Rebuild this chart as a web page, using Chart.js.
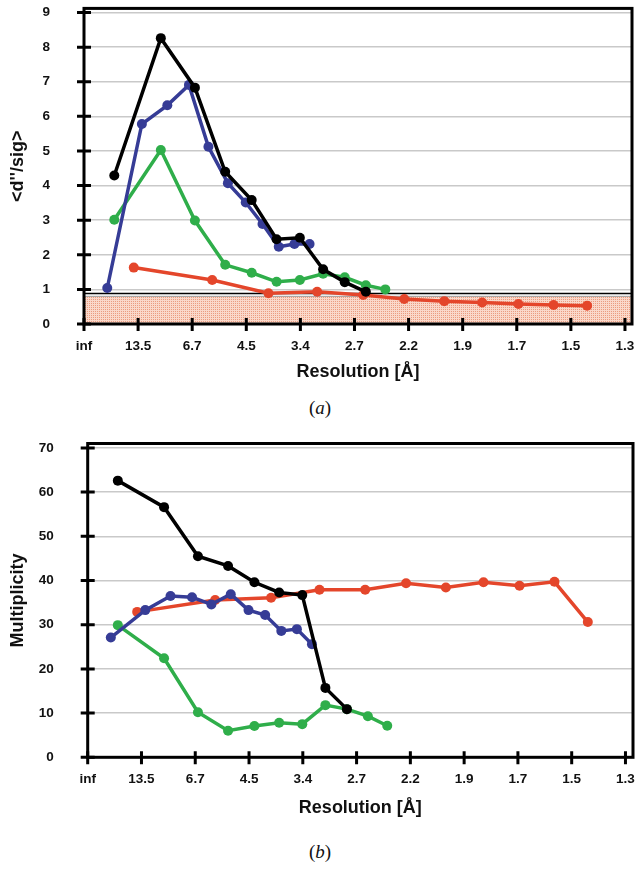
<!DOCTYPE html>
<html>
<head>
<meta charset="utf-8">
<script src="https://cdn.jsdelivr.net/npm/chart.js@4.4.0/dist/chart.umd.min.js"></script>
<style>
  body { margin: 0; background: #fff; width: 640px; height: 871px; position: relative; overflow: hidden; }
  .box { position: absolute; left: 0; width: 640px; }
  .cap { position: absolute; left: 0; width: 640px; text-align: center; font-family: "Liberation Serif", "DejaVu Serif", serif; font-size: 19px; color: #111; }
</style>
</head>
<body>
<div class="box" style="top:0"><canvas id="chartA" width="640" height="395"></canvas></div>
<div class="cap" style="top:397px">(<i>a</i>)</div>
<div class="box" style="top:430px"><canvas id="chartB" width="640" height="400"></canvas></div>
<div class="cap" style="top:841px">(<i>b</i>)</div>

<script>
// resolution tick labels, one per unit on the x axis
const resLabels = ["inf", "13.5", "6.7", "4.5", "3.4", "2.7", "2.2", "1.9", "1.7", "1.5", "1.3"];

// bin positions (in tick units) for each data set
const binsA = [0.56, 1.42, 2.05, 2.61, 3.10, 3.56, 3.99, 4.42, 4.82, 5.21, 5.57]; // black, green
const binsB = [0.43, 1.07, 1.54, 1.94, 2.30, 2.66, 2.99, 3.30, 3.60, 3.89, 4.17]; // blue
const binsC = [0.92, 2.37, 3.41, 4.31, 5.16, 5.92, 6.66, 7.36, 8.03, 8.68, 9.30]; // red

// (a) <d''/sig>
const sigBlack = [4.29, 8.26, 6.83, 4.40, 3.58, 2.45, 2.49, 1.58, 1.21, 0.93];
const sigBlue = [1.04, 5.78, 6.32, 6.91, 5.12, 4.07, 3.51, 2.89, 2.23, 2.31, 2.31];
const sigGreen = [3.01, 5.03, 2.99, 1.71, 1.48, 1.22, 1.27, 1.45, 1.35, 1.12, 1.00];
const sigRed = [1.63, 1.27, 0.89, 0.93, 0.84, 0.72, 0.66, 0.62, 0.58, 0.55, 0.53];
const sigCutoff = 0.88;
const sigBand = 0.8;

// (b) multiplicity
const multBlack = [62.6, 56.6, 45.5, 43.3, 39.6, 37.3, 36.7, 15.7, 10.9];
const multBlue = [27.1, 33.3, 36.5, 36.2, 34.6, 36.9, 33.3, 32.2, 28.6, 29.0, 25.6];
const multGreen = [29.9, 22.4, 10.2, 6.0, 7.1, 7.8, 7.5, 11.8, 10.9, 9.3, 7.15];
const multRed = [32.9, 35.6, 36.1, 37.9, 37.9, 39.4, 38.4, 39.6, 38.8, 39.7, 30.6];

const colors = { black: "#000000", blue: "#363c96", green: "#2fae4a", red: "#e4462b" };

function pts(xs, ys) {
  return ys.map((y, i) => ({ x: xs[i], y: y }));
}

function series(xs, ys, color) {
  return {
    data: pts(xs, ys),
    borderColor: color,
    backgroundColor: color,
    borderWidth: 3.5,
    pointRadius: 5,
    pointBorderWidth: 0,
    tension: 0,
  };
}

// dotted salmon fill for the band under the cutoff
function bandPattern() {
  const c = document.createElement("canvas");
  c.width = 2;
  c.height = 2;
  const g = c.getContext("2d");
  g.fillStyle = "#fad8ca";
  g.fillRect(0, 0, 2, 2);
  g.fillStyle = "#eb9c80";
  g.fillRect(1, 1, 1, 1);
  return g.createPattern(c, "repeat");
}

const framePlugin = {
  id: "frame",
  beforeDatasetsDraw(chart, args, opts) {
    const { ctx, chartArea: a, scales } = chart;
    if (opts.band) {
      const y0 = scales.y.getPixelForValue(0);
      const y1 = scales.y.getPixelForValue(opts.band);
      ctx.save();
      ctx.fillStyle = bandPattern();
      ctx.fillRect(a.left, y1, a.right - a.left, y0 - y1);
      ctx.strokeStyle = "#9a9a9a";
      ctx.lineWidth = 1;
      ctx.beginPath();
      ctx.moveTo(a.left, y1);
      ctx.lineTo(a.right, y1);
      ctx.stroke();
      const yc = scales.y.getPixelForValue(opts.cutoff);
      ctx.strokeStyle = "#000";
      ctx.lineWidth = 1.5;
      ctx.beginPath();
      ctx.moveTo(a.left, yc);
      ctx.lineTo(a.right, yc);
      ctx.stroke();
      ctx.restore();
    }
  },
  afterDatasetsDraw(chart) {
    const { ctx, chartArea: a, scales } = chart;
    ctx.save();
    ctx.strokeStyle = "#000";
    ctx.lineWidth = 3;
    ctx.strokeRect(a.left, a.top, a.right - a.left, a.bottom - a.top);
    ctx.beginPath();
    scales.y.ticks.forEach((t) => {
      const y = scales.y.getPixelForValue(t.value);
      ctx.moveTo(a.left - 7, y);
      ctx.lineTo(a.left + 7, y);
    });
    scales.x.ticks.forEach((t) => {
      const x = scales.x.getPixelForValue(t.value);
      ctx.moveTo(x, a.bottom - 6);
      ctx.lineTo(x, a.bottom + 7);
    });
    ctx.stroke();
    ctx.restore();
  },
};

function makeChart(id, datasets, o) {
  const tickFont = { family: "Liberation Sans", size: 13.5, weight: "bold" };
  const titleFont = { family: "Liberation Sans", size: 18, weight: "bold" };
  const yCount = Math.floor(o.yMax / o.yStep);
  return new Chart(document.getElementById(id), {
    type: "line",
    data: { datasets: datasets },
    options: {
      responsive: false,
      animation: false,
      layout: { padding: { top: o.padTop, right: o.padRight, left: 0, bottom: 0 } },
      plugins: {
        legend: { display: false },
        tooltip: { enabled: false },
        frame: { band: o.band, cutoff: o.cutoff },
      },
      scales: {
        x: {
          type: "linear",
          min: 0,
          max: o.xMax,
          grid: { display: false, drawTicks: false },
          border: { display: false },
          afterBuildTicks: (s) => { s.ticks = resLabels.map((_, i) => ({ value: i })); },
          afterFit: (s) => { s.height = o.bottomHeight; s.paddingLeft = 0; s.paddingRight = 0; },
          ticks: {
            autoSkip: false,
            maxRotation: 0,
            padding: 14,
            color: "#111",
            font: tickFont,
            callback: (v) => resLabels[v],
          },
          title: { display: true, text: "Resolution [Å]", color: "#111", font: titleFont, padding: { top: 0, bottom: o.titleBottom } },
        },
        y: {
          min: 0,
          max: o.yMax,
          grid: {
            drawTicks: false,
            lineWidth: 1.5,
            color: (c) => (c.tick && c.tick.value === 0 ? "rgba(0,0,0,0)" : "#c9c9c9"),
          },
          border: { display: false },
          afterBuildTicks: (s) => {
            const t = [];
            for (let i = 0; i <= yCount; i++) t.push({ value: i * o.yStep });
            s.ticks = t;
          },
          afterFit: (s) => { s.width = o.leftWidth; s.paddingTop = 0; s.paddingBottom = 0; },
          ticks: { padding: 34, color: "#111", font: tickFont },
          title: { display: true, text: o.yTitle, color: "#111", font: titleFont, padding: { top: 7, bottom: 0 } },
        },
      },
    },
    plugins: [framePlugin],
  });
}

makeChart(
  "chartA",
  [
    series(binsA, sigBlack, colors.black),
    series(binsB, sigBlue, colors.blue),
    series(binsA, sigGreen, colors.green),
    series(binsC, sigRed, colors.red),
  ],
  { xMax: 10.13, yMax: 9.12, yStep: 1, padTop: 8.4, padRight: 8, leftWidth: 84, bottomHeight: 71, titleBottom: 12,
    yTitle: "<d''/sig>", band: sigBand, cutoff: sigCutoff }
);

makeChart(
  "chartB",
  [
    series(binsA, multBlack, colors.black),
    series(binsB, multBlue, colors.blue),
    series(binsA, multGreen, colors.green),
    series(binsC, multRed, colors.red),
  ],
  { xMax: 10.14, yMax: 71, yStep: 10, padTop: 13.5, padRight: 7, leftWidth: 87.7, bottomHeight: 72.7, titleBottom: 11,
    yTitle: "Multiplicity", band: 0, cutoff: 0 }
);
</script>
</body>
</html>
